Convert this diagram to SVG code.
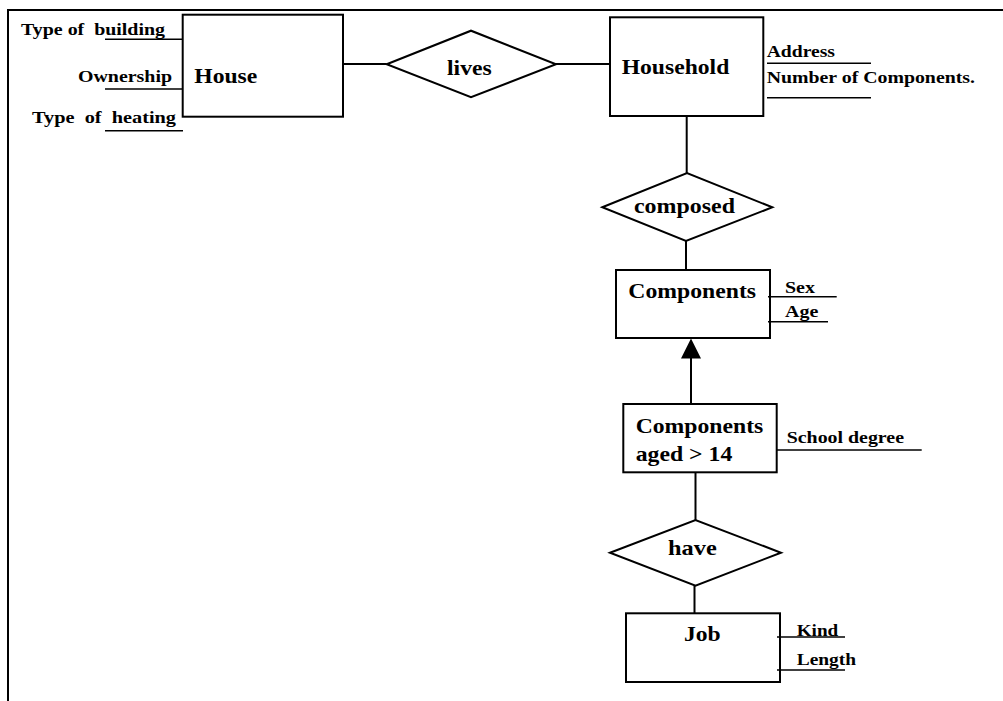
<svg xmlns="http://www.w3.org/2000/svg" width="1003" height="701" viewBox="0 0 1003 701">
  <style>
    .shape { fill: #fff; stroke: #000; stroke-width: 2; }
    .line { fill: none; stroke: #000; stroke-width: 2; }
    .attr { fill: none; stroke: #000; stroke-width: 1.6; }
    text { font-family: "Liberation Serif", "Times New Roman", serif; font-weight: bold; fill: #000; white-space: pre; }
    .big { font-size: 21px; }
    .small { font-size: 17.5px; }
  </style>
  <defs>
    <marker id="isa" viewBox="0 0 20 20" refX="10" refY="0" markerWidth="20" markerHeight="20" markerUnits="userSpaceOnUse" orient="auto-start-reverse">
      <path d="M0 20 L10 0 L20 20 Z" fill="#000"/>
    </marker>
  </defs>

  <!-- page frame -->
  <path class="line" d="M8 701 V10 H1003"/>

  <g id="connectors">
    <line class="line" x1="343" y1="64" x2="386.7" y2="64"/>
    <line class="line" x1="556" y1="64" x2="610" y2="64"/>
    <line class="line" x1="686.7" y1="116" x2="686.7" y2="173"/>
    <line class="line" x1="686" y1="241" x2="686" y2="270"/>
    <path class="line" d="M691 404 V358"/>
    <path d="M681 358.5 L691 338.5 L701 358.5 Z" fill="#000"/>
    <line class="line" x1="695.5" y1="472" x2="695.5" y2="520"/>
    <line class="line" x1="694.5" y1="586" x2="694.5" y2="613"/>
  </g>

  <g id="house">
    <rect class="shape" x="182.7" y="14.7" width="160.3" height="102"/>
    <text class="big" x="194.3" y="83" textLength="63" lengthAdjust="spacingAndGlyphs">House</text>
    <text class="small" x="21" y="35" textLength="144" lengthAdjust="spacingAndGlyphs">Type of  building</text>
    <line class="attr" x1="105" y1="39.3" x2="183" y2="39.3"/>
    <text class="small" x="78" y="81.7" textLength="94" lengthAdjust="spacingAndGlyphs">Ownership</text>
    <line class="attr" x1="105" y1="89" x2="183" y2="89"/>
    <text class="small" x="32" y="123" textLength="144" lengthAdjust="spacingAndGlyphs">Type  of  heating</text>
    <line class="attr" x1="105" y1="130.7" x2="183" y2="130.7"/>
  </g>

  <g id="lives">
    <polygon class="shape" points="386.7,64.3 471,30.7 556,64.3 471,97.3"/>
    <text class="big" x="447" y="75" textLength="44.7" lengthAdjust="spacingAndGlyphs">lives</text>
  </g>

  <g id="household">
    <rect class="shape" x="610" y="17.3" width="153.3" height="98.7"/>
    <text class="big" x="621.7" y="74" textLength="107.6" lengthAdjust="spacingAndGlyphs">Household</text>
    <text class="small" x="766.7" y="57" textLength="68.3" lengthAdjust="spacingAndGlyphs">Address</text>
    <line class="attr" x1="767" y1="63.3" x2="871" y2="63.3"/>
    <text class="small" x="766.7" y="83" textLength="208.3" lengthAdjust="spacingAndGlyphs">Number of Components.</text>
    <line class="attr" x1="767" y1="97.7" x2="871" y2="97.7"/>
  </g>

  <g id="composed">
    <polygon class="shape" points="602.3,207.3 687,173 772.3,207.3 686,241"/>
    <text class="big" x="634" y="213" textLength="101" lengthAdjust="spacingAndGlyphs">composed</text>
  </g>

  <g id="components">
    <rect class="shape" x="616" y="270" width="154" height="68"/>
    <text class="big" x="628.3" y="298" textLength="127.7" lengthAdjust="spacingAndGlyphs">Components</text>
    <text class="small" x="785" y="293.3" textLength="30" lengthAdjust="spacingAndGlyphs">Sex</text>
    <line class="attr" x1="768" y1="296.7" x2="836.7" y2="296.7"/>
    <text class="small" x="785" y="316.5" textLength="33.3" lengthAdjust="spacingAndGlyphs">Age</text>
    <line class="attr" x1="768" y1="321.7" x2="828" y2="321.7"/>
  </g>

  <g id="components-aged">
    <rect class="shape" x="623.3" y="404" width="153.4" height="68.3"/>
    <text class="big" x="635.7" y="433.3" textLength="127.6" lengthAdjust="spacingAndGlyphs">Components</text>
    <text class="big" x="635.7" y="460.7" textLength="96.6" lengthAdjust="spacingAndGlyphs">aged &gt; 14</text>
    <text class="small" x="786.7" y="443.3" textLength="117.3" lengthAdjust="spacingAndGlyphs">School degree</text>
    <line class="attr" x1="777" y1="450" x2="921.7" y2="450"/>
  </g>

  <g id="have">
    <polygon class="shape" points="610,552.7 695.5,520 781,552.7 695.5,585.7"/>
    <text class="big" x="668" y="555" textLength="48.7" lengthAdjust="spacingAndGlyphs">have</text>
  </g>

  <g id="job">
    <rect class="shape" x="626" y="613.3" width="154" height="68.7"/>
    <text class="big" x="684" y="641" textLength="36.7" lengthAdjust="spacingAndGlyphs">Job</text>
    <text class="small" x="796.7" y="636" textLength="41.6" lengthAdjust="spacingAndGlyphs">Kind</text>
    <line class="attr" x1="777" y1="637" x2="845" y2="637"/>
    <text class="small" x="796.7" y="665" textLength="59.3" lengthAdjust="spacingAndGlyphs">Length</text>
    <line class="attr" x1="777" y1="670" x2="845" y2="670"/>
  </g>
</svg>
